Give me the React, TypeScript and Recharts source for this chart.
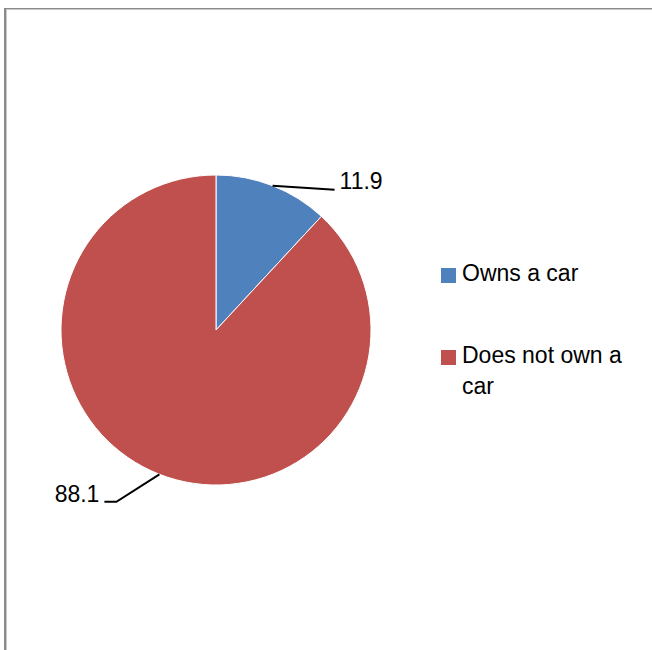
import React from 'react';
import { PieChart, Pie, Cell, Legend } from 'recharts';

const categories = ['Owns a car', 'Does not own a car'];
const values = [11.9, 88.1];
const colors = ['#4F81BD', '#C0504D'];

const data = categories.map((name, i) => ({ name, value: values[i] }));

const FONT = '"Liberation Sans", Arial, sans-serif';
const RAD = Math.PI / 180;

const renderLabel = (props: any) => {
  const { cx, cy, midAngle, outerRadius, value, index } = props;
  const px = cx + outerRadius * Math.cos(-midAngle * RAD);
  const py = cy + outerRadius * Math.sin(-midAngle * RAD);
  const right = Math.cos(-midAngle * RAD) >= 0;
  if (right) {
    return (
      <g key={`lbl-${index}`}>
        <path d={`M${px},${py} L${px + 62},${py + 4}`} stroke="#000" strokeWidth={2} fill="none" />
        <text x={px + 67} y={py + 3.5} textAnchor="start" fontFamily={FONT} fontSize={23} fill="#000">
          {value}
        </text>
      </g>
    );
  }
  return (
    <g key={`lbl-${index}`}>
      <path
        d={`M${px},${py} L${px - 43},${py + 27.5} L${px - 55},${py + 27.5}`}
        stroke="#000"
        strokeWidth={2}
        fill="none"
      />
      <text x={px - 60} y={py + 28} textAnchor="end" fontFamily={FONT} fontSize={23} fill="#000">
        {value}
      </text>
    </g>
  );
};

const renderLegend = (props: any) => {
  const payload = [...(props.payload || [])].sort(
    (a: any, b: any) => categories.indexOf(a.value) - categories.indexOf(b.value)
  );
  return (
    <div style={{ fontFamily: FONT, fontSize: 23, lineHeight: '31px', color: '#000' }}>
      {payload.map((entry: any, i: number) => (
        <div
          key={`leg-${i}`}
          style={{ display: 'flex', alignItems: 'flex-start', marginTop: i === 0 ? 0 : 51 }}
        >
          <div
            style={{
              width: 15,
              height: 15,
              background: entry.color,
              marginTop: 10.5,
              marginRight: 6,
              flex: '0 0 auto',
            }}
          />
          <div style={{ width: 180 }}>{entry.value}</div>
        </div>
      ))}
    </div>
  );
};

export default function App() {
  return (
    <div style={{ position: 'absolute', left: 0, top: 0, width: 652, height: 650, background: '#fff' }}>
      <div
        style={{
          position: 'absolute',
          left: 4,
          top: 8,
          width: 646,
          height: 642,
          borderLeft: '2px solid #8a8a8a',
          borderTop: '1px solid #8a8a8a',
          boxShadow: 'inset 1px 1px 0 #c8c8c8',
        }}
      />
      <div style={{ position: 'absolute', left: 0, top: 0 }}>
        <PieChart width={652} height={650} margin={{ top: 0, right: 0, bottom: 0, left: 0 }}>
          <Pie
            data={data}
            dataKey="value"
            nameKey="name"
            cx={216}
            cy={330}
            outerRadius={155}
            startAngle={90}
            endAngle={-270}
            stroke="#fff"
            strokeWidth={1}
            label={renderLabel}
            labelLine={false}
            isAnimationActive={false}
          >
            {data.map((d, i) => (
              <Cell key={d.name} fill={colors[i]} />
            ))}
          </Pie>
          <Legend
            layout="vertical"
            verticalAlign="middle"
            align="right"
            itemSorter={null as any}
            content={renderLegend}
            wrapperStyle={{ position: 'absolute', left: 441, top: 257.5, width: 205, right: 'auto', bottom: 'auto' }}
          />
        </PieChart>
      </div>
    </div>
  );
}
